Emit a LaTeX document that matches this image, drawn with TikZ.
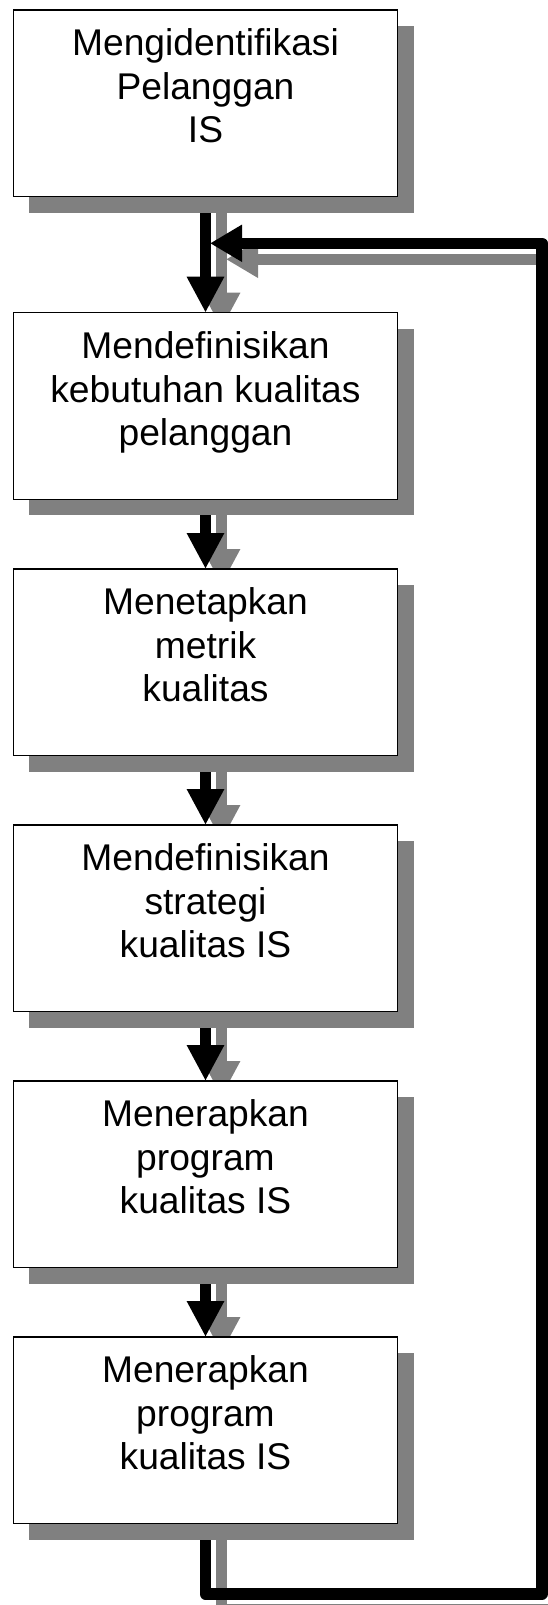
\documentclass[tikz,border=0pt]{standalone}
\usepackage{fontspec}
\setmainfont{Liberation Sans}
\usetikzlibrary{arrows.meta,shadows}
\pgfdeclarelayer{shadelayer}
\pgfdeclarelayer{arrowlayer}
\pgfsetlayers{shadelayer,arrowlayer,main}
% text of one step, set from the top of its box
\newcommand\steptext[1]{\parbox[c][186.7pt][t]{384pt}{\centering
  \fontsize{37.2}{43.5}\selectfont\vspace*{15.5pt}\strut #1}}
\begin{document}
\begin{tikzpicture}[x=1pt,y=-1pt,
  stepbox/.style={draw=black, line width=1.5pt, fill=white,
    inner sep=0pt, outer sep=0pt,
    minimum width=384.4pt, minimum height=186.7pt,
    drop shadow={shadow xshift=16pt, shadow yshift=-16pt,
      fill=gray, opacity=1, draw=none}},
  flow/.style={line width=11.5pt,
    -{Triangle[length=36pt 0 0,width=35pt 0 0]}},
  backflow/.style={line width=11.5pt, line join=round,
    -{Triangle[length=32pt 0 0,width=35pt 0 0]}}
]
\useasboundingbox (0,0) rectangle (548,1605);

% process steps
\node[stepbox] (b1) at (205.5,103.35) {\steptext{Mengidentifikasi\\Pelanggan\\IS}};
\node[stepbox] (b2) at (205.5,406.05) {\steptext{Mendefinisikan\\kebutuhan kualitas\\pelanggan}};
\node[stepbox] (b3) at (205.5,662.35) {\steptext{Menetapkan\\metrik\\kualitas}};
\node[stepbox] (b4) at (205.5,918.35) {\steptext{Mendefinisikan\\strategi\\kualitas IS}};
\node[stepbox] (b5) at (205.5,1174.35) {\steptext{Menerapkan\\program\\kualitas IS}};
\node[stepbox] (b6) at (205.5,1430.35) {\steptext{Menerapkan\\program\\kualitas IS}};

% corner and merge point of the feedback loop
\coordinate (loopBR) at (542,1594);
\coordinate (merge) at (210,243.3);

% connectors, drawn twice: a grey cast shadow, then the black arrow
\begin{pgfonlayer}{shadelayer}
\begin{scope}[transform canvas={xshift=16pt,yshift=-16pt}, draw=gray, color=gray]
  \draw[flow] (b1.south) -- (b2.north);
  \draw[flow] (b2.south) -- (b3.north);
  \draw[flow] (b3.south) -- (b4.north);
  \draw[flow] (b4.south) -- (b5.north);
  \draw[flow] (b5.south) -- (b6.north);
  \draw[backflow] (b6.south) |- (loopBR) |- (merge);
\end{scope}
\end{pgfonlayer}
\begin{pgfonlayer}{arrowlayer}
  \draw[flow] (b1.south) -- (b2.north);
  \draw[flow] (b2.south) -- (b3.north);
  \draw[flow] (b3.south) -- (b4.north);
  \draw[flow] (b4.south) -- (b5.north);
  \draw[flow] (b5.south) -- (b6.north);
  \draw[backflow] (b6.south) |- (loopBR) |- (merge);
\end{pgfonlayer}
\end{tikzpicture}
\end{document}
